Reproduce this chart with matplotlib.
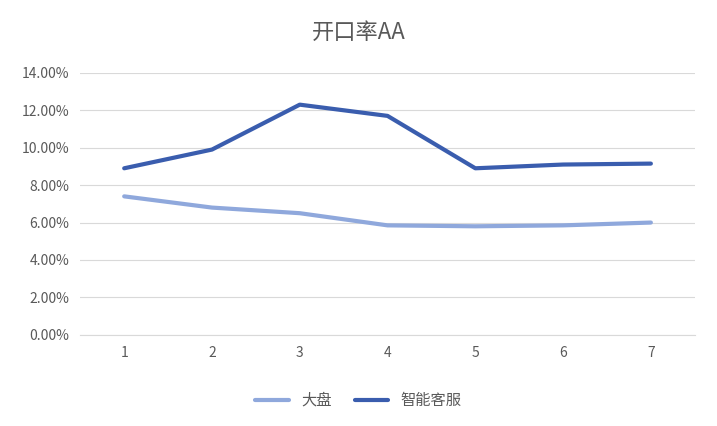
import matplotlib
matplotlib.use("Agg")
import matplotlib.pyplot as plt
from matplotlib.ticker import FuncFormatter

plt.rcParams['font.family'] = ['Noto Sans CJK SC', 'DejaVu Sans']

x = [1, 2, 3, 4, 5, 6, 7]
dapan = [7.4, 6.8, 6.5, 5.85, 5.8, 5.85, 6.0]
zhineng = [8.9, 9.9, 12.3, 11.7, 8.9, 9.1, 9.15]

fig = plt.figure(figsize=(7.17, 4.26), dpi=100)
ax = fig.add_axes([0.112, 0.214, 0.857, 0.615])
ax.plot(x, dapan, color='#8FA8DC', lw=3, label='大盘', solid_capstyle='round')
ax.plot(x, zhineng, color='#3A5DAE', lw=3, label='智能客服', solid_capstyle='round')
ax.set_xlim(0.5, 7.5)
ax.set_ylim(0, 14)
ax.set_yticks(range(0, 15, 2))
ax.yaxis.set_major_formatter(FuncFormatter(lambda v, p: f"{v:.2f}%"))
ax.set_xticks(x)
ax.grid(axis='y', color='#D9D9D9', lw=0.8)
ax.set_axisbelow(True)
for s in ['top', 'right', 'left']:
    ax.spines[s].set_visible(False)
ax.spines['bottom'].set_color('#D9D9D9')
ax.tick_params(length=0, labelsize=10, colors='#595959', pad=8)
fig.text(0.5, 0.925, '开口率AA', ha='center', va='center', fontsize=16, color='#595959')
fig.legend(loc='center', bbox_to_anchor=(0.5, 0.06), ncol=2, frameon=False,
           fontsize=11, labelcolor='#595959', handlelength=2.2, columnspacing=1.5)
fig.savefig('out.png', dpi=100)
